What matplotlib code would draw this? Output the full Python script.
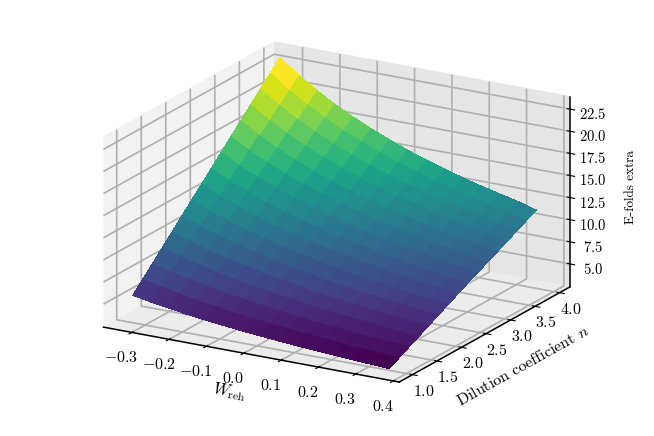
import numpy as np
import matplotlib
matplotlib.use("Agg")
import matplotlib.pyplot as plt

plt.rcParams['font.family'] = 'serif'
plt.rcParams['font.serif'] = ['cmr10']
plt.rcParams['mathtext.fontset'] = 'cm'
plt.rcParams['axes.formatter.use_mathtext'] = True
plt.rcParams['axes.unicode_minus'] = True
plt.rcParams['grid.linewidth'] = 1.2
plt.rcParams['axes.linewidth'] = 1.1

w_values = [-0.333, -0.284, -0.235, -0.186, -0.137, -0.088, -0.039, 0.01, 0.059, 0.108, 0.157, 0.206, 0.255, 0.304, 0.354]
n_values = [1.0, 1.2, 1.4, 1.6, 1.8, 2.0, 2.2, 2.4, 2.6, 2.8, 3.0, 3.2, 3.4, 3.6, 3.8, 4.0]
efolds = [
    [5.50, 5.11, 4.78, 4.47, 4.21, 3.98, 3.76, 3.57, 3.39, 3.23, 3.08, 2.95, 2.82, 2.71, 2.60],
    [6.67, 6.21, 5.80, 5.44, 5.12, 4.84, 4.58, 4.35, 4.14, 3.95, 3.77, 3.60, 3.45, 3.32, 3.18],
    [7.86, 7.31, 6.84, 6.42, 6.04, 5.71, 5.41, 5.14, 4.89, 4.67, 4.46, 4.27, 4.09, 3.93, 3.78],
    [9.03, 8.40, 7.86, 7.38, 6.95, 6.58, 6.23, 5.92, 5.64, 5.38, 5.14, 4.92, 4.72, 4.54, 4.36],
    [10.20, 9.50, 8.89, 8.34, 7.87, 7.44, 7.05, 6.70, 6.38, 6.09, 5.82, 5.58, 5.35, 5.15, 4.95],
    [11.39, 10.60, 9.93, 9.32, 8.79, 8.31, 7.88, 7.49, 7.14, 6.82, 6.51, 6.24, 5.99, 5.76, 5.54],
    [12.56, 11.70, 10.95, 10.28, 9.70, 9.18, 8.70, 8.27, 7.88, 7.53, 7.20, 6.90, 6.62, 6.37, 6.13],
    [13.73, 12.79, 11.98, 11.25, 10.61, 10.04, 9.52, 9.05, 8.63, 8.24, 7.88, 7.56, 7.25, 6.98, 6.71],
    [14.90, 13.88, 13.00, 12.21, 11.52, 10.90, 10.34, 9.83, 9.37, 8.96, 8.56, 8.21, 7.88, 7.58, 7.30],
    [16.09, 14.99, 14.04, 13.19, 12.44, 11.78, 11.17, 10.62, 10.13, 9.68, 9.25, 8.88, 8.52, 8.20, 7.85],
    [17.26, 16.08, 15.06, 14.15, 13.35, 12.64, 11.99, 11.40, 10.87, 10.39, 9.94, 9.53, 9.15, 8.81, 8.42],
    [18.43, 17.18, 16.09, 15.12, 14.27, 13.50, 12.81, 12.18, 11.62, 11.11, 10.62, 10.19, 9.78, 9.41, 8.98],
    [19.62, 18.28, 17.13, 16.09, 15.19, 14.38, 13.64, 12.97, 12.37, 11.83, 11.31, 10.85, 10.42, 10.03, 9.55],
    [20.79, 19.38, 18.15, 17.06, 16.10, 15.24, 14.46, 13.75, 13.12, 12.54, 12.00, 11.51, 11.05, 10.64, 10.12],
    [21.96, 20.47, 19.18, 18.02, 17.01, 16.11, 15.28, 14.53, 13.86, 13.25, 12.68, 12.16, 11.68, 11.24, 10.70],
    [23.14, 21.56, 20.20, 18.99, 17.92, 16.97, 16.10, 15.31, 14.61, 13.97, 13.36, 12.82, 12.31, 11.85, 11.25],
]

W, N = np.meshgrid(w_values, n_values)
Z = np.array(efolds)

fig = plt.figure(figsize=(6.54, 4.36), dpi=100)
ax = fig.add_axes([0.105, 0.1185, 0.798, 0.77], projection='3d')
# stretch the box to the whole axes rectangle, like older matplotlib did
ax.apply_aspect = lambda position=None: None
ax.set_proj_type('ortho')
ax.set_box_aspect((1, 1, 1), zoom=1.1)
ax.plot_surface(W, N, Z, cmap='viridis', rstride=1, cstride=1, linewidth=0, antialiased=False)
ax.set_xlim(-0.376, 0.416)
ax.set_ylim(0.73, 4.21)
ax.set_zlim(2.4, 23.9)

ax.xaxis.set_pane_color((0.95, 0.95, 0.95, 1.0))
ax.yaxis.set_pane_color((0.90, 0.90, 0.90, 1.0))
ax.zaxis.set_pane_color((0.925, 0.925, 0.925, 1.0))

ax.set_xticks([-0.3, -0.2, -0.1, 0.0, 0.1, 0.2, 0.3, 0.4])
ax.set_yticks([1.0, 1.5, 2.0, 2.5, 3.0, 3.5, 4.0])
ax.set_zticks([5, 7.5, 10, 12.5, 15, 17.5, 20, 22.5])
ax.tick_params(axis='x', labelsize=11.5, pad=2)
ax.tick_params(axis='y', labelsize=11.5, pad=-2)
ax.tick_params(axis='z', labelsize=10.5, pad=0)
ax.set_xlabel(r'$W_{\mathrm{reh}}$', fontsize=12, labelpad=0)
ax.set_ylabel(r'Dilution coefficient $n$', fontsize=11.5, labelpad=0)
ax.set_zlabel('E-folds extra', fontsize=9.5, labelpad=0)

fig.savefig('out.png', dpi=100)
